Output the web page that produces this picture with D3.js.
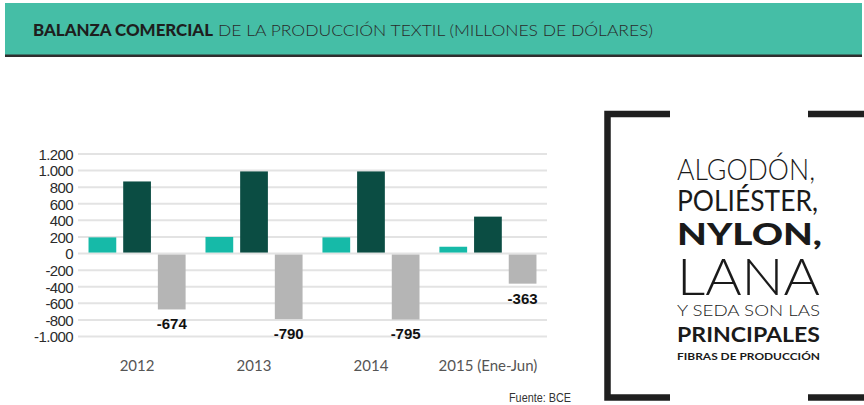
<!DOCTYPE html>
<html>
<head>
<meta charset="utf-8">
<script src="https://cdn.jsdelivr.net/npm/d3@7/dist/d3.min.js"></script>
<style>
    body { margin: 0; background: #fff; }
    svg { display: block; }
</style>
</head>
<body>
<svg id="stage" width="864" height="405"></svg>
<script>
var Balanza;
(function (Balanza) {
    var colors = { exp: "#16BAA8", imp: "#0B4D43", bal: "#B5B5B5" };
    // millones de dolares
    var data = [
        { year: "2012", exp: 195, imp: 869, bal: -674 },
        { year: "2013", exp: 200, imp: 990, bal: -790 },
        { year: "2014", exp: 195, imp: 990, bal: -795 },
        { year: "2015 (Ene-Jun)", exp: 82, imp: 445, bal: -363 }
    ];
    var series = ["exp", "imp", "bal"];
    var fibras = [
        { t: "ALGODÓN,", y: 180, size: 30, w: 300, len: 138 },
        { t: "POLIÉSTER,", y: 210.5, size: 28, w: 400, len: 141 },
        { t: "NYLON,", y: 245, size: 31, w: 900, len: 145 },
        { t: "LANA", y: 295, size: 52, w: 300, len: 143 },
        { t: "Y SEDA SON LAS", y: 315.5, size: 15, w: 300, len: 143 },
        { t: "PRINCIPALES", y: 341.5, size: 21.5, w: 700, len: 143 },
        { t: "FIBRAS DE PRODUCCIÓN", y: 360, size: 9.5, w: 700, len: 143 }
    ];

    var svg = d3.select("#stage");
    var es = d3.formatLocale({ decimal: ",", thousands: ".", grouping: [3], currency: ["$", ""], minus: "-" });

    function header() {
        svg.append("rect").attr("x", 5).attr("y", 3).attr("width", 857).attr("height", 52)
            .attr("fill", "#45BEA6");
        svg.append("rect").attr("x", 5).attr("y", 54.5).attr("width", 857).attr("height", 2.5)
            .attr("fill", "#2e2e2e");
        svg.append("text").attr("x", 33).attr("y", 36)
            .attr("font-family", "Lato, 'Open Sans', sans-serif").attr("font-weight", 900)
            .attr("font-size", 16.5).attr("fill", "#1e1e1e")
            .attr("textLength", 180).attr("lengthAdjust", "spacingAndGlyphs")
            .text("BALANZA COMERCIAL");
        svg.append("text").attr("x", 218).attr("y", 36)
            .attr("font-family", "Lato, 'Open Sans', sans-serif").attr("font-weight", 300)
            .attr("font-size", 16.5).attr("fill", "#2a2a2a")
            .attr("textLength", 435).attr("lengthAdjust", "spacingAndGlyphs")
            .text("DE LA PRODUCCIÓN TEXTIL (MILLONES DE DÓLARES)");
    }

    function chart() {
        var y = d3.scaleLinear().domain([-1000, 1200]).range([336.5, 154]);
        var x0 = d3.scaleBand().domain(data.map(function (d) { return d.year; }))
            .range([78, 547]).paddingInner(0.17).paddingOuter(0.09);
        var x1 = d3.scaleBand().domain(series).range([0, x0.bandwidth()]).paddingInner(0.2);

        var ticks = d3.range(-1000, 1201, 200);
        var grid = svg.append("g");
        grid.selectAll("line").data(ticks).enter().append("line")
            .attr("x1", 78).attr("x2", 547)
            .attr("y1", function (d) { return y(d); })
            .attr("y2", function (d) { return y(d); })
            .attr("stroke", "#e3e3e3").attr("stroke-width", 2);

        var yAxis = d3.axisLeft(y).tickValues(ticks).tickSize(0).tickPadding(0)
            .tickFormat(es.format(",d"));
        var ya = svg.append("g").attr("transform", "translate(73,0)").call(yAxis);
        ya.select(".domain").remove();
        ya.selectAll("text")
            .attr("font-family", "'Liberation Sans', Arial, sans-serif")
            .attr("font-size", 15).attr("fill", "#2b2b2b").attr("letter-spacing", -0.6)
            .attr("dy", "0.36em");

        var groups = svg.append("g").selectAll("g").data(data).enter().append("g")
            .attr("transform", function (d) { return "translate(" + x0(d.year) + ",0)"; });
        groups.selectAll("rect")
            .data(function (d) { return series.map(function (k) { return { key: k, value: d[k] }; }); })
            .enter().append("rect")
            .attr("x", function (d) { return x1(d.key); })
            .attr("width", x1.bandwidth())
            .attr("y", function (d) { return d.value > 0 ? y(d.value) : y(0) + 1; })
            .attr("height", function (d) { return Math.abs(y(d.value) - y(0)) - 1; })
            .attr("fill", function (d) { return colors[d.key]; });

        groups.append("text")
            .attr("x", x1("bal") + x1.bandwidth() / 2)
            .attr("y", function (d) { return y(d.bal) + 20; })
            .attr("text-anchor", "middle")
            .attr("font-family", "'Liberation Sans', Arial, sans-serif")
            .attr("font-weight", "bold").attr("font-size", 15).attr("fill", "#111")
            .text(function (d) { return es.format(",d")(d.bal); });

        var xAxis = d3.axisBottom(x0).tickSize(0).tickPadding(0);
        var xa = svg.append("g").attr("transform", "translate(0,371)").call(xAxis);
        xa.select(".domain").remove();
        xa.selectAll("text")
            .attr("font-family", "Lato, 'Open Sans', sans-serif")
            .attr("font-size", 15).attr("fill", "#555").attr("dy", 0);

        svg.append("text").attr("x", 509).attr("y", 402)
            .attr("font-family", "'Liberation Sans Narrow', 'Liberation Sans', sans-serif")
            .attr("font-size", 12.5).attr("fill", "#333")
            .attr("textLength", 62).attr("lengthAdjust", "spacingAndGlyphs")
            .text("Fuente: BCE");
    }

    function box() {
        var g = svg.append("g").attr("fill", "none").attr("stroke", "#1f1f1f").attr("stroke-width", 6.5);
        g.append("path").attr("d", "M670,114H607.5V397.5H670");
        g.append("path").attr("d", "M808,114H866");
        g.append("path").attr("d", "M808,397.5H866");

        svg.append("g").selectAll("text").data(fibras).enter().append("text")
            .attr("x", 677)
            .attr("y", function (d) { return d.y; })
            .attr("font-family", "Lato, 'Open Sans', sans-serif")
            .attr("font-size", function (d) { return d.size; })
            .attr("font-weight", function (d) { return d.w; })
            .attr("fill", "#1a1a1a")
            .attr("textLength", function (d) { return d.len; })
            .attr("lengthAdjust", "spacingAndGlyphs")
            .text(function (d) { return d.t; });
    }

    header();
    chart();
    box();
})(Balanza || (Balanza = {}));
</script>
</body>
</html>
